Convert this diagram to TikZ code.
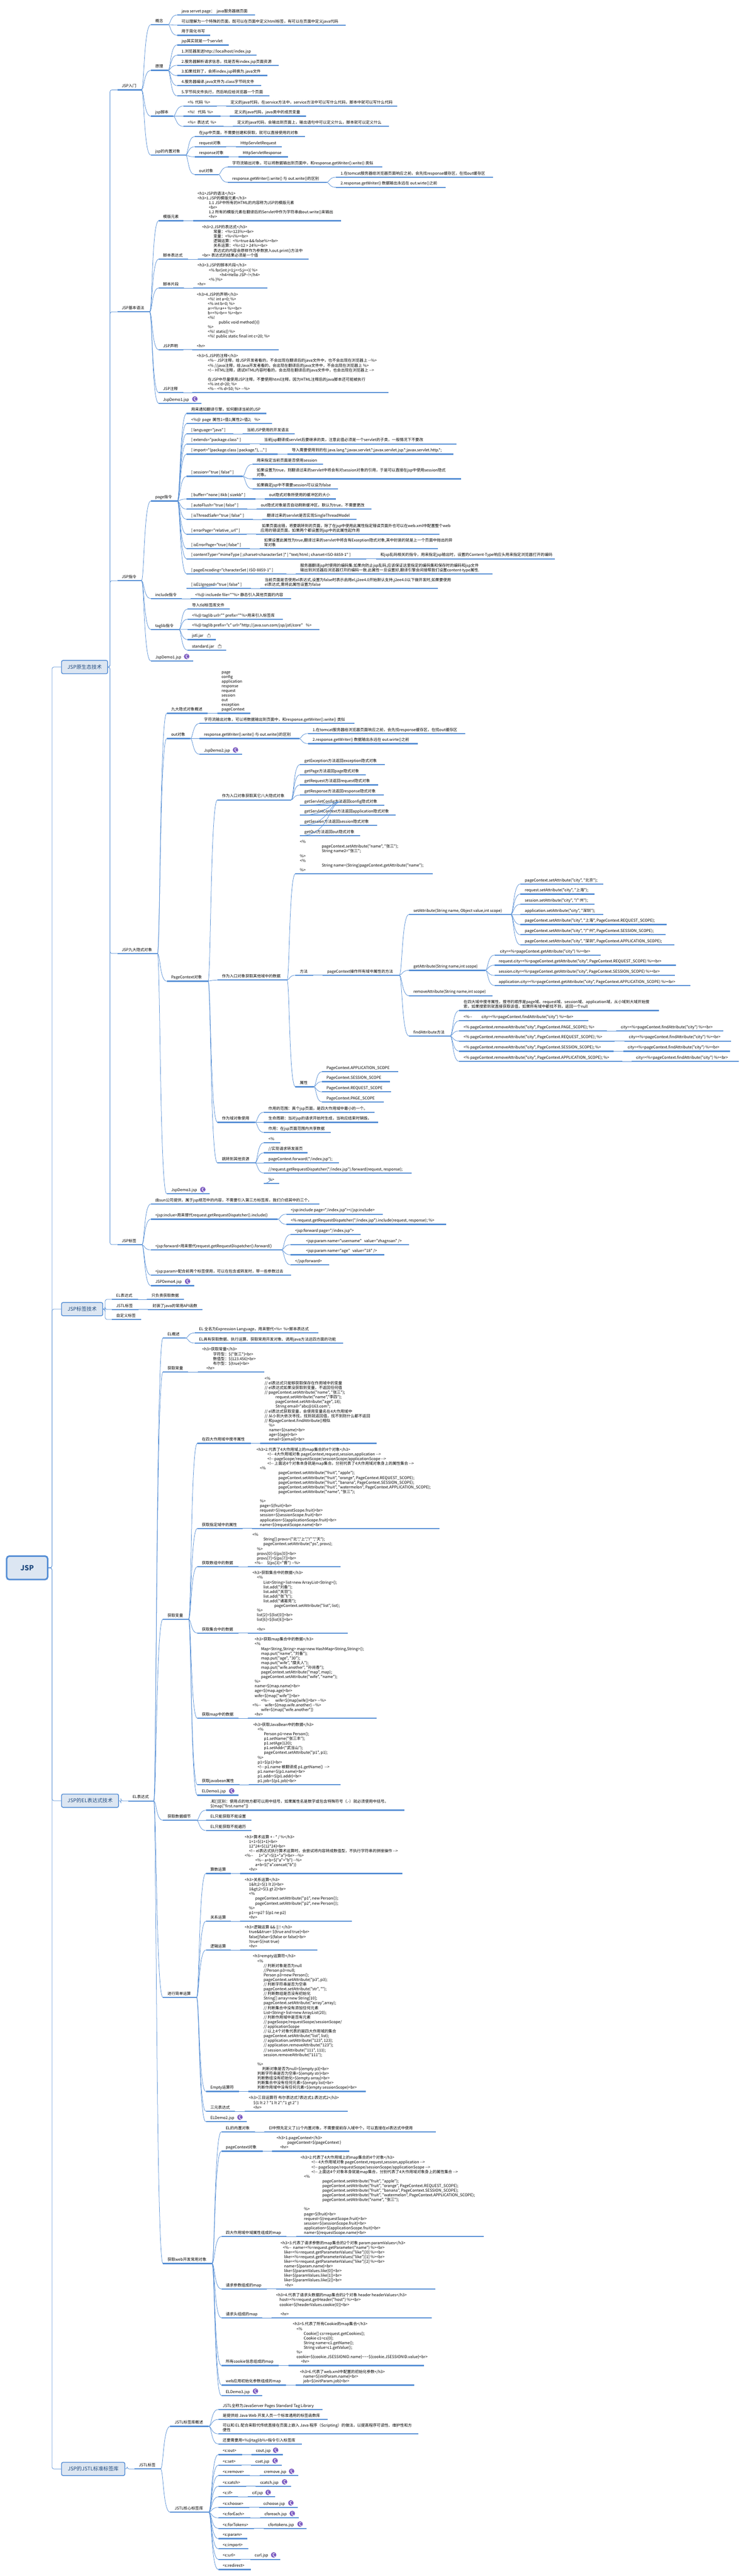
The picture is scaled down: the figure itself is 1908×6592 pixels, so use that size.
\documentclass[tikz,border=0pt]{standalone}
\usepackage{fontspec}
\usetikzlibrary{calc}
\newfontfamily\mainf{Noto Sans CJK SC}
\definecolor{mapblue}{HTML}{558ED5}
\definecolor{boxfill}{HTML}{DCE6F2}
\definecolor{boxtext}{HTML}{1F497D}
\definecolor{icnpurple}{HTML}{7A58BF}
\tikzset{
  topic/.style={anchor=south west,align=left,inner xsep=11.5pt,inner ysep=2.6pt,outer sep=0pt,font=\mainf\fontsize{10}{12}\selectfont},
  barline/.style={draw=mapblue,line width=3pt},
  conn/.style={draw=mapblue,line width=1pt},
  elbow/.style={draw=mapblue,line width=1pt,rounded corners=5pt},
  lvlbox/.style={draw=mapblue,fill=boxfill,line width=2pt,rounded corners=4pt,text=boxtext,font=\mainf\fontsize{13}{15}\selectfont,inner sep=0pt},
  rootbox/.style={draw=mapblue,fill=boxfill,line width=4pt,rounded corners=7pt,text=boxtext,font=\mainf\bfseries\fontsize{18}{20}\selectfont,inner sep=0pt}
}
\newcommand\idt[1]{\hspace*{#1pt}}
\newcommand\blk{\mbox{}}
\newcommand\tpbase[5]{% name x0 x1 y text
  \node[topic] (#1) at (#2,#4) {#5\strut};
  \coordinate (#1w) at (#2,#4);
  \coordinate (#1e) at (#3,#4);
  \draw[barline] (#1w) -- (#1e);
}
% name parent x0 x1 y text
\newcommand\tp[6]{%
  \tpbase{#1}{#3}{#4}{#5}{#6}%
  \draw[conn] let \p1=(#2e),\p2=(#1w) in (\p1) .. controls ({\x1+0.3*(\x2-\x1)},\y1) and ({\x1+0.25*(\x2-\x1)},\y2) .. (\p2);
}
% name box x0 x1 y text
\newcommand\tb[6]{%
  \tpbase{#1}{#3}{#4}{#5}{#6}%
  \draw[elbow] (#2.east) -- ++(5,0) |- (#1w);
}
\newcommand\icn[2]{%
  \fill[icnpurple] (#1,#2) circle (7);
  \draw[white,line width=1.1pt,line cap=round] (#1,#2) ++(2.6,-3.6) .. controls ++(-3,-1) and ++(-1,-4) .. ++(-4.4,3.6) -- ++(2.4,0) ++(-2.4,0) .. controls ++(-1.2,3.5) and ++(4,3.5) .. ++(4.6,3.4);
}
\newcommand\jar[2]{%
  \fill[gray!65] (#1,#2) ++(-4.5,-2) rectangle ++(9,7.5);
  \fill[white] (#1,#2) ++(-3,0) rectangle ++(6,4);
  \fill[gray!80] (#1,#2) ++(0,-3) circle (2.2);
}
\begin{document}
\begin{tikzpicture}[x=1pt,y=-1pt]
\useasboundingbox (0,0) rectangle (1908,6592);
\fill[white] (0,0) rectangle (1908,6592);
\node[rootbox,minimum width=105pt,minimum height=60pt] (root) at (69.5,4012) {JSP};
\node[lvlbox,minimum width=118pt,minimum height=34pt] (A) at (216.5,1707) {JSP原生态技术};
\node[lvlbox,minimum width=105.5pt,minimum height=34pt] (B) at (210.2,3350) {JSP标签技术};
\node[lvlbox,minimum width=146pt,minimum height=34pt] (C) at (230.5,4608) {JSP的EL表达式技术};
\node[lvlbox,minimum width=162pt,minimum height=34pt] (D) at (238.5,6318) {JSP的JSTL标准标签库};
\foreach \b in {A,B,C,D} \draw[draw=mapblue,line width=1pt,rounded corners=5pt] (root.east) -- ++(9,0) |- (\b.west);

% ===== JSP入门
\tb{rm}{A}{300}{362}{230}{JSP入门}
\tp{gn}{rm}{386}{430}{63}{概念}
\tp{gn1}{gn}{453}{652}{38.3}{java servet page：\idt{5}java服务器端页面}
\tp{gn2}{gn}{453}{885}{64.3}{可以理解为一个特殊的页面，既可以在页面中定义html标签，有可以在页面中定义java代码}
\tp{gn3}{gn}{453}{538}{90.3}{用于简化书写}
\tp{yl}{rm}{386}{430}{180}{原理}
\tp{yl0}{yl}{453}{585}{115.2}{jsp其实就是一个servlet}
\tp{yl1}{yl}{453}{656}{141.2}{1.浏览器发送http://localhost/index.jsp}
\tp{yl2}{yl}{453}{713}{167.2}{2.服务器解析请求信息，找是否有index.jsp页面资源}
\tp{yl3}{yl}{453}{684}{193.3}{3.如果找到了，会将index.jsp转换为.java文件}
\tp{yl4}{yl}{453}{668}{219.3}{4.服务器编译.java文件为.class字节码文件}
\tp{yl5}{yl}{453}{690}{245.3}{5.字节码文件执行，然后响应给浏览器一个页面}
\tp{jb}{rm}{386}{443}{297.4}{jsp脚本}
\tp{jb1}{jb}{469}{555}{271.3}{<\%\idt{4}代码\idt{4}\%>}
\tp{jb1a}{jb1}{578.5}{1017}{271.3}{定义的java代码，在service方法中，service方法中可以写什么代码，脚本中就可以写什么代码}
\tp{jb2}{jb}{469}{564.4}{297.4}{<\%!\idt{8}代码\idt{4}\%>}
\tp{jb2a}{jb2}{588.6}{782.5}{297.4}{定义的java代码，java类中的成员变量}
\tp{jb3}{jb}{469}{572}{323.4}{<\%=\idt{4}表达式\idt{4}\%>}
\tp{jb3a}{jb3}{595.7}{995.5}{323.4}{定义的java代码，会输出到页面上，输出语句中可以定义什么，脚本就可以定义什么}
\tp{nz}{rm}{386}{475}{397}{jsp的内置对象}
\tp{nz1}{nz}{498}{781}{349.4}{在jsp中页面，不需要创建和获取，就可以直接使用的对象}
\tp{nz2}{nz}{498}{579}{375.4}{request对象}
\tp{nz2a}{nz2}{604}{721}{375.4}{HttpServletRequest}
\tp{nz3}{nz}{498}{586}{401.4}{response对象}
\tp{nz3a}{nz3}{610}{736.6}{401.4}{HttpServletResponse}
\tp{nz4}{nz}{498}{558.7}{446.6}{out对象}
\tp{nz4a}{nz4}{583}{978}{427.5}{字符流输出对象，可以将数据输出到页面中，和response.getWriter().write() 类似}
\tp{nz4b}{nz4}{583}{836}{466.5}{response.getWriter().write() 与 out.write()的区别}
\tp{nz4c}{nz4b}{860}{1262}{453.5}{1.在tomcat服务器给浏览器页面响应之前，会先找response缓存区，在找out缓存区}
\tp{nz4d}{nz4b}{860}{1140}{479.5}{2.response.getWriter() 数据输出永远在 out.wirte()之前}

% ===== JSP基本语法
\tb{yf}{A}{300}{383}{798}{JSP基本语法}
\tp{mb}{yf}{406}{470}{565}{模版元素}
\tp{mba}{mb}{494}{873}{565}{<h1>JSP的语法</h1>\\
<h3>1.JSP的模版元素</h3>\\
\idt{29}1.1 JSP中所有的HTML的内容称为JSP的模版元素\\
\idt{29}<br>\\
\idt{29}1.2 所有的模版元素在翻译后的Servlet中作为字符串由out.write()来输出\\
\idt{29}<hr>}
\tp{bd}{yf}{406}{481.5}{663}{脚本表达式}
\tp{bda}{bd}{505.7}{790}{663}{<h3>2.JSP的表达式</h3>\\
\idt{29}常量：<\%=123\%><br>\\
\idt{29}变量：<\%=i\%><br>\\
\idt{29}逻辑运算：<\%=true \&\& false\%><br>\\
\idt{29}关系运算：<\%=12 > 24\%><br>\\
\idt{29}表达式的内容会原样作为参数放入out.print()方法中\\
<br> 表达式的结果必须是一个值}
\tp{pd}{yf}{406}{470.7}{737}{脚本片段}
\tp{pda}{pd}{494}{684}{737}{<h3>3.JSP的脚本片段</h3>\\
\idt{29}<\% for(int j=1;j<=5;j++)\{ \%>\\
\idt{57}<h4>Hello JSP\textasciitilde!</h4>\\
\idt{29}<\% \}\%>\\
<hr>}
\tp{sm}{yf}{406}{469}{895}{JSP声明}
\tp{sma}{sm}{492.4}{713}{895}{<h3>4.JSP的声明</h3>\\
\idt{28}<\%! int a=0; \%>\\
\idt{28}<\% int b=0; \%>\\
\idt{28}a=<\%=a++ \%><br>\\
\idt{28}b=<\%=b++ \%><br>\\
\idt{28}<\%!\\
\idt{56}public void method()\{\}\\
\idt{28}\%>\\
\idt{28}<\%! static\{\} \%>\\
\idt{28}<\%! public static final int c=20; \%>\\
\blk\\
<hr>}
\tp{zs}{yf}{406}{469}{1005}{JSP注释}
\tp{zsa}{zs}{492.4}{993.6}{1005}{<h3>5.JSP的注释</h3>\\
\idt{28}<\%-- JSP注释，给JSP开发者看的，不会出现在翻译后的java文件中，也不会出现在浏览器上 --\%>\\
\idt{28}<\% //java注释，给Java开发者看的，会出现在翻译后的java文件中，不会出现在浏览器上 \%>\\
\idt{28}<!-- HTML注释，调试HTML内容时看的，会出现在翻译后的java文件中，也会出现在浏览器上 -->\\
\blk\\
\idt{28}在JSP中尽量使用JSP注释，不要使用html注释，因为HTML注释后的java脚本还可能被执行\\
\idt{28}<\% int d=20; \%>\\
\idt{28}<\%-- <\% d=50; \%> --\%>}
\tp{dm1}{yf}{406}{516}{1032}{JspDemo1.jsp}
\icn{498.7}{1021}

% ===== JSP指令
\tb{zl}{A}{300}{362}{1486}{JSP指令}
\tp{pg}{zl}{386}{454}{1282}{page指令}
\tp{pg1}{pg}{477.7}{682}{1058}{用来通知翻译引擎，如何翻译当前的JSP}
\tp{pg2}{pg}{477.7}{696.4}{1084}{<\%@\idt{4}page\idt{4}属性1=值1;属性2=值2;\idt{8}\%>}
\tp{pg3}{pg}{477.7}{597}{1110}{[ language="java" ]}
\tp{pg3a}{pg3}{620.5}{754.5}{1110}{当前JSP使用的开发语言}
\tp{pg4}{pg}{477.7}{640}{1136}{[ extends="package.class" ]}
\tp{pg4a}{pg4}{664.5}{1168}{1136}{当前jsp翻译成servlet后要继承的类，注意此值必须是一个servlet的子类，一般情况下不要改}
\tp{pg5}{pg}{477.7}{711}{1162}{[ import="\{package.class | package.*\}, ..." ]}
\tp{pg5a}{pg5}{735.4}{1160}{1162}{导入需要使用到的包 java.lang.*;javax.servlet.*;javax.servlet.jsp.*;javax.servlet.http.*;}
\tp{pg6}{pg}{477.7}{621}{1219}{[ session="true | false" ]}
\tp{pg6a}{pg6}{645.4}{827}{1188}{用来指定当前页面是否使用session}
\tp{pg6b}{pg6}{645.4}{1180}{1225.6}{如果设置为true，则翻译过来的servlet中将会有对session对象的引用，于是可以直接在jsp中使用session隐式\\对象。}
\tp{pg6c}{pg6}{645.4}{865}{1251}{如果确定jsp中不需要session可以设为false}
\tp{pg7}{pg}{477.7}{654}{1277}{[ buffer="none | 8kb | sizekb" ]}
\tp{pg7a}{pg7}{677.3}{859}{1277}{out隐式对象所使用的缓冲区的大小}
\tp{pg8}{pg}{477.7}{632.6}{1303}{[ autoFlush="true | false" ]}
\tp{pg8a}{pg8}{656}{950}{1303}{out隐式对象是否自动刷新缓冲区，默认为true，不需要更改}
\tp{pg9}{pg}{477.7}{647}{1329}{[ isThreadSafe="true | false" ]}
\tp{pg9a}{pg9}{671.6}{912.6}{1329}{翻译过来的servlet是否实现SingleThreadModel}
\tp{pga}{pg}{477.7}{631}{1367}{[ errorPage="relative\_url" ]}
\tp{pgaa}{pga}{655.6}{1125}{1367}{\idt{3}如果页面出错，将要跳转到的页面，除了在jsp中使用此属性指定错误页面外也可以在web.xml中配置整个web\\应用的错误页面，如果两个都设置则jsp中的此属性起作用}
\tp{pgb}{pg}{477.7}{640}{1404}{[ isErrorPage="true | false" ]}
\tp{pgba}{pgb}{664.5}{1120}{1404}{如果设置此属性为true,翻译过来的servlet中将含有Exception隐式对象,其中封装的就是上一个页面中抛出的异\\常对象}
\tp{pgc}{pg}{477.7}{938}{1430}{[ contentType="mimeType [ ;charset=characterSet ]" | "text/html ; charset=ISO-8859-1" ]}
\tp{pgca}{pgc}{962}{1420}{1430}{和jsp乱码相关的指令，用来指定jsp输出时，设置的Content-Type响应头用来指定浏览器打开的编码}
\tp{pgd}{pg}{477.7}{733}{1468.6}{[ pageEncoding="characterSet | ISO-8859-1" ]}
\tp{pgda}{pgd}{757}{1260}{1468.6}{服务器翻译jsp时使用的编码集.如果向防止jsp乱码,应该保证这里指定的编码集和保存时的编码和jsp文件\\输出到浏览器后浏览器打开的编码一致.此属性一旦设置好,翻译引擎会间接帮我们设置content-type属性.}
\tp{pge}{pg}{477.7}{641.6}{1506}{[ isELIgnored="true | false" ]}
\tp{pgea}{pge}{666}{1120}{1506}{当前页面是否使用el表达式,设置为false时表示启用el,j2ee4.0开始默认支持,j2ee4.0以下做开发时,如果要使用\\el表达式,需将此属性设置为false}
\tp{ic}{zl}{386}{465}{1532}{include指令}
\tp{ica}{ic}{488}{745}{1532}{<\%@ incluede file=""\%> 静态引入其他页面的内容}
\tp{tl}{zl}{386}{458}{1611}{taglib指令}
\tp{tl1}{tl}{480}{588}{1558.6}{导入tld标签库文件}
\tp{tl2}{tl}{480}{724}{1584.6}{<\%@ taglib url="" prefix=""\%>用来引入标签库}
\tp{tl3}{tl}{480}{818}{1610.6}{<\%@ taglib prefix="c" url="http://java.sun.com/jsp/jstl/core"\idt{8}\%>}
\tp{tl4}{tl}{480}{552}{1636.7}{jstl.jar}
\jar{534.4}{1626}
\tp{tl5}{tl}{480}{579}{1664}{standard.jar}
\jar{562}{1653}
\tp{dm1b}{zl}{386}{495}{1691.4}{JspDemo1.jsp}
\icn{477.7}{1680}

% ===== JSP九大隐式对象
\tb{ys}{A}{300}{403}{2440}{JSP九大隐式对象}
\tp{ys1}{ys}{426.6}{531}{1825.4}{九大隐式对象概述}
\tp{ys1a}{ys1}{555.7}{640.5}{1825.4}{page\\config\\application\\response\\request\\session\\out\\exception\\pageContext}
\tp{ou}{ys}{426.6}{487}{1890}{out对象}
\tp{oua}{ou}{510.8}{906.4}{1851}{字符流输出对象，可以将数据输出到页面中，和response.getWriter().write() 类似}
\tp{oub}{ou}{510.8}{765.4}{1890}{response.getWriter().write() 与 out.write()的区别}
\tp{ouc}{oub}{788.6}{1191}{1877}{1.在tomcat服务器给浏览器页面响应之前，会先找response缓存区，在找out缓存区}
\tp{oud}{oub}{788.6}{1069}{1903}{2.response.getWriter() 数据输出永远在 out.wirte()之前}
\tp{dm2}{ou}{510.8}{620}{1930.4}{JspDemo2.jsp}
\icn{602.7}{1919}
\tp{pc}{ys}{426.6}{532.5}{2510.7}{PageContext对象}
\tp{pc1}{pc}{556.4}{745}{2047}{作为入口对象获取其它八大隐式对象}
\tp{pc1a}{pc1}{767.5}{985}{1956.7}{getException方法返回exception隐式对象}
\tp{pc1b}{pc1}{767.5}{936.6}{1982.6}{getPage方法返回page隐式对象}
\tp{pc1c}{pc1}{767.5}{967.5}{2008.5}{getRequest方法返回request隐式对象}
\tp{pc1d}{pc1}{767.5}{982}{2034.4}{getResponse方法返回response隐式对象}
\tp{pc1e}{pc1}{767.5}{984}{2060.3}{getServletConfig方法返回config隐式对象}
\tp{pc1f}{pc1}{767.5}{1013}{2086}{getServletContext方法返回application隐式对象}
\tp{pc1g}{pc1}{767.5}{965}{2112}{getSession方法返回session隐式对象}
\tp{pc1h}{pc1}{767.5}{921}{2138.4}{getOut方法返回out隐式对象}
\tp{pc2}{pc}{556.4}{734.6}{2508}{作为入口对象获取其他域中的数据}
\tp{pc2a}{pc2}{756}{1107}{2236}{<\%\\
\idt{56}pageContext.setAttribute("name", "张三");\\
\idt{56}String name2="张三";\\
\%>\\
<\%\\
\idt{56}String name=(String)pageContext.getAttribute("name");\\
\%>}
\tp{ff}{pc2}{756}{801}{2495.5}{方法}
\tp{ffa}{ff}{825.7}{1022}{2495.5}{pageContext操作所有域中属性的方法}
\tp{st}{ffa}{1046.7}{1307}{2340}{setAttribute(String name, Object value,int scope)}
\tp{st1}{st}{1331.8}{1544}{2262}{pageContext.setAttribute("city", "北京");}
\tp{st2}{st}{1331.8}{1522}{2288}{request.setAttribute("city", "上海");}
\tp{st3}{st}{1331.8}{1522}{2314}{session.setAttribute("city", "广州");}
\tp{st4}{st}{1331.8}{1544}{2340}{application.setAttribute("city", "深圳");}
\tp{st5}{st}{1331.8}{1706}{2366}{pageContext.setAttribute("city", "上海", PageContext.REQUEST\_SCOPE);}
\tp{st6}{st}{1331.8}{1704}{2392}{pageContext.setAttribute("city", "广州", PageContext.SESSION\_SCOPE);}
\tp{st7}{st}{1331.8}{1726}{2418}{pageContext.setAttribute("city", "深圳", PageContext.APPLICATION\_SCOPE);}
\tp{gt}{ffa}{1046.7}{1242}{2483}{getAttribute(String name,int scope)}
\tp{gt1}{gt}{1265}{1537}{2444}{\idt{3}city=<\%=pageContext.getAttribute("city") \%><br>}
\tp{gt2}{gt}{1265}{1730}{2470}{request.city=<\%=pageContext.getAttribute("city", PageContext.REQUEST\_SCOPE) \%><br>}
\tp{gt3}{gt}{1265}{1727}{2496}{session.city=<\%=pageContext.getAttribute("city", PageContext.SESSION\_SCOPE) \%><br>}
\tp{gt4}{gt}{1265}{1767}{2522}{application.city=<\%=pageContext.getAttribute("city", PageContext.APPLICATION\_SCOPE) \%><br>}
\tp{rmv}{ffa}{1046.7}{1260.6}{2548}{removeAttribute(String name,int scope)}
\tp{fd}{ffa}{1046.7}{1152}{2651}{findAttribute方法}
\tp{fd1}{fd}{1175}{1686}{2586}{在四大域中搜寻属性，搜寻的顺序是page域、request域、session域、application域，从小域到大域开始搜\\索，如果搜索到就直接获取该值，如果所有域中都找不到，返回一个null}
\tp{fd2}{fd}{1175}{1505.5}{2612}{<\%--\idt{24}city=<\%=pageContext.findAttribute("city") \%><br>}
\tp{fd3}{fd}{1175}{1553.6}{2638}{<\% pageContext.removeAttribute("city", PageContext.PAGE\_SCOPE); \%>}
\tp{fd3a}{fd3}{1577.3}{1851}{2638}{city=<\%=pageContext.findAttribute("city") \%><br>}
\tp{fd4}{fd}{1175}{1573}{2664}{<\% pageContext.removeAttribute("city", PageContext.REQUEST\_SCOPE); \%>}
\tp{fd4a}{fd4}{1597.6}{1871}{2664}{city=<\%=pageContext.findAttribute("city") \%><br>}
\tp{fd5}{fd}{1175}{1570}{2690}{<\% pageContext.removeAttribute("city", PageContext.SESSION\_SCOPE); \%>}
\tp{fd5a}{fd5}{1594.7}{1868.6}{2690}{city=<\%=pageContext.findAttribute("city") \%><br>}
\tp{fd6}{fd}{1175}{1592}{2716}{<\% pageContext.removeAttribute("city", PageContext.APPLICATION\_SCOPE); \%>}
\tp{fd6a}{fd6}{1616.7}{1890.6}{2716}{city=<\%=pageContext.findAttribute("city") \%><br>}
\tp{sx}{pc2}{756}{803}{2781}{属性}
\tp{sx1}{sx}{824.3}{1019}{2742.4}{PageContext.APPLICATION\_SCOPE}
\tp{sx2}{sx}{824.3}{997.6}{2768}{PageContext.SESSION\_SCOPE}
\tp{sx3}{sx}{824.3}{1000.4}{2794}{PageContext.REQUEST\_SCOPE}
\tp{sx4}{sx}{824.3}{982}{2820}{PageContext.PAGE\_SCOPE}
\tp{pc3}{pc}{556.4}{652.5}{2872}{作为域对象使用}
\tp{pc3a}{pc3}{675.6}{958}{2846}{作用的范围：真个jsp页面，是四大作用域中最小的一个。}
\tp{pc3b}{pc3}{675.6}{968}{2872}{生命周期：当对jsp的请求开始时生成，当响应结束时销毁。}
\tp{pc3c}{pc3}{675.6}{846}{2898}{作用：在jsp页面范围内共享数据}
\tp{pc4}{pc}{556.4}{652.5}{2976}{跳转到其他资源}
\tp{pc4a}{pc4}{675.6}{717}{2924}{<\%}
\tp{pc4b}{pc4}{675.6}{787}{2950}{//实现请求转发首页}
\tp{pc4c}{pc4}{675.6}{867}{2976}{pageContext.forward("/index.jsp");}
\tp{pc4d}{pc4}{675.6}{1053}{3002}{//request.getRequestDispatcher("/index.jsp").forward(request, response);}
\tp{pc4e}{pc4}{675.6}{714}{3028}{\%>}
\tp{dm3}{ys}{426.6}{536}{3055}{JspDemo3.jsp}
\icn{519}{3044}

% ===== JSP标签
\tb{bq}{A}{300}{363}{3185}{JSP标签}
\tp{bq1}{bq}{386}{818}{3081}{由sun公司提供，属于jsp规范中的内容，不需要引入第三方标签库，我们介绍其中的三个。}
\tp{bq2}{bq}{386}{711}{3120}{<jsp:inclue>用来替代request.getRequestDispatcher().include()}
\tp{bq2a}{bq2}{733}{979}{3107}{<jsp:include page="/index.jsp"></jsp:include>}
\tp{bq2b}{bq2}{733}{1141.4}{3133}{<\% request.getRequestDispatcher("/index.jsp").include(request, response); \%>}
\tp{bq3}{bq}{386}{720.5}{3198.6}{<jsp:forward>用来替代request.getRequestDispatcher().forward()}
\tp{bq3a}{bq3}{743.7}{923}{3159}{<jsp:forward page="/index.jsp">}
\tp{bq3b}{bq3}{743.7}{1047}{3185}{\idt{28}<jsp:param name="username"\idt{6}value="zhagnsan" />}
\tp{bq3c}{bq3}{743.7}{984}{3211}{\idt{28}<jsp:param name="age"\idt{6}value="18" />}
\tp{bq3d}{bq3}{743.7}{842}{3237}{</jsp:forward>}
\tp{bq4}{bq}{386}{745.5}{3263}{<jsp:param>配合前两个标签使用，可以在包含或转发时，带一些参数过去}
\tp{dm4}{bq}{386}{497}{3290}{JSPDemo4.jsp}
\icn{480}{3279}

% ===== JSP标签技术
\tb{b1}{B}{286}{352.7}{3325}{EL表达式}
\tp{b1a}{b1}{376.3}{471}{3325}{只负责获取数据}
\tb{b2}{B}{286}{354.6}{3351}{JSTL标签}
\tp{b2a}{b2}{379}{518}{3351}{封装了java的常用API函数}
\tb{b3}{B}{286}{361.6}{3376.4}{自定义标签}

% ===== EL
\tb{el}{C}{328}{393.5}{4608.6}{EL表达式}
\tp{e1}{el}{417}{475}{3424}{EL概述}
\tp{e1a}{e1}{498}{814.4}{3411}{EL 全名为Expression Language，用来替代<\%=\idt{4}\%>脚本表达式}
\tp{e1b}{e1}{498}{878}{3437}{EL具有获取数据、执行运算、获取常用开发对象、调用java方法这四方面的功能}
\tp{e2}{el}{417}{481.5}{3511}{获取常量}
\tp{e2a}{e2}{505.7}{676.7}{3511}{<h3>获取常量</h3>\\
\idt{28}字符型：\$\{"张三"\}<br>\\
\idt{28}数值型：\$\{123.456\}<br>\\
\idt{28}布尔型：\$\{true\}<br>\\
\idt{11}<hr>}
\tp{e3}{el}{417}{482.8}{4143.3}{获取变量}
\tp{e31}{e3}{505}{641.6}{3693.3}{在四大作用域中搜寻属性}
\tp{e31a}{e31}{665.8}{963.6}{3693.3}{<\%\\
// el表达式只能够获取保存在作用域中的变量\\
// el表达式如果没获取到变量，不返回任何值\\
// pageContext.setAttribute("name", "张三");\\
\idt{28}request.setAttribute("name","李四");\\
\idt{28}pageContext.setAttribute("age", 18);\\
\idt{28}String email="abc@163.com";\\
// el表达式获取变量，会使用变量名在4大作用域中\\
// 从小到大依次寻找，找到就返回值，找不到则什么都不返回\\
// 和pageContext.findAttribute()相似\\
\idt{11}\%>\\
\idt{11}name=\$\{name\}<br>\\
\idt{11}age=\$\{age\}<br>\\
\idt{11}email=\$\{email\}<br>}
\tp{e32}{e3}{505}{620.5}{3911.4}{获取指定域中的属性}
\tp{e32a}{e32}{644.8}{1125}{3911.4}{<h3>2.代表了4大作用域上的map集合的4个对象</h3>\\
\idt{28}<!-- 4大作用域对象 pageContext,request,session,application -->\\
\idt{28}<!-- pageScope/requestScope/sessionScope/applicationScope -->\\
\idt{28}<!-- 上面这4个对象本身就是map集合，分别代表了4大作用域对象身上的属性集合 -->\\
\idt{9}<\%\\
\idt{56}pageContext.setAttribute("fruit", "apple");\\
\idt{56}pageContext.setAttribute("fruit", "orange", PageContext.REQUEST\_SCOPE);\\
\idt{56}pageContext.setAttribute("fruit", "banana", PageContext.SESSION\_SCOPE);\\
\idt{56}pageContext.setAttribute("fruit", "watermelon", PageContext.APPLICATION\_SCOPE);\\
\idt{56}pageContext.setAttribute("name", "张三");\\
\blk\\
\idt{9}\%>\\
\idt{9}page=\$\{fruit\}<br>\\
\idt{9}request=\$\{requestScope.fruit\}<br>\\
\idt{9}session=\$\{sessionScope.fruit\}<br>\\
\idt{9}application=\$\{applicationScope.fruit\}<br>\\
\idt{9}name=\$\{requestScope.name\}<br>}
\tp{e33}{e3}{505}{610}{4009.3}{获取数组中的数据}
\tp{e33a}{e33}{634.6}{871}{4009.3}{<\%\\
\idt{28}String[] provs=\{"北","上","广","天"\};\\
\idt{28}pageContext.setAttribute("ps", provs);\\
\idt{11.5}\%>\\
\idt{11.5}provs[0]=\$\{ps[0]\}<br>\\
\idt{11.5}provs[7]=\$\{ps[7]\}<br>\\
\idt{5.7}<\%--\idt{10}\$\{ps[3]="晋"\} --\%>}
\tp{e34}{e3}{505}{610}{4179}{获取集合中的数据}
\tp{e34a}{e34}{634.6}{890}{4179}{<h3>获取集合中的数据</h3>\\
\idt{11.5}<\%\\
\idt{28}List<String> list=new ArrayList<String>();\\
\idt{28}list.add("刘备");\\
\idt{28}list.add("关羽");\\
\idt{28}list.add("张飞");\\
\idt{28}list.add("诸葛亮");\\
\idt{56}pageContext.setAttribute("list", list);\\
\idt{11.5}\%>\\
\idt{11.5}list[2]=\$\{list[0]\}<br>\\
\idt{11.5}list[6]=\$\{list[6]\}<br>\\
\blk\\
\idt{11.5}<hr>}
\tp{e35}{e3}{505}{610}{4397}{获取map中的数据}
\tp{e35a}{e35}{634.6}{963.6}{4397}{\idt{5.7}<h3>获取map集合中的数据</h3>\\
\idt{5.7}<\%\\
\idt{22}Map<String,String> map=new HashMap<String,String>();\\
\idt{22}map.put("name", "刘备");\\
\idt{22}map.put("age", "30");\\
\idt{22}map.put("wife", "糜夫人");\\
\idt{22}map.put("wife.another", "孙尚香");\\
\idt{22}pageContext.setAttribute("map", map);\\
\idt{22}pageContext.setAttribute("wife", "name");\\
\idt{5.7}\%>\\
\idt{5.7}name=\$\{map.name\}<br>\\
\idt{5.7}age=\$\{map.age\}<br>\\
\idt{5.7}wife=\$\{map["wife"]\}<br>\\
\idt{22}<\%--\idt{15}wife=\$\{map[wife]\}<br> --\%>\\
<\%--\idt{10}wife=\$\{map.wife.another\} --\%>\\
\idt{22}wife=\$\{map["wife.another"]\}\\
\idt{5.7}<hr>}
\tp{e36}{e3}{505}{613}{4567.2}{获取javabean属性}
\tp{e36a}{e36}{636.5}{871}{4567.2}{<h3>获取JavaBean中的数据</h3>\\
\idt{11.5}<\%\\
\idt{27.5}Person p1=new Person();\\
\idt{27.5}p1.setName("张三丰");\\
\idt{27.5}p1.setAge(120);\\
\idt{27.5}p1.setAddr("武当山");\\
\idt{27.5}pageContext.setAttribute("p1", p1);\\
\idt{11.5}\%>\\
\idt{11.5}p1=\$\{p1\}<br>\\
\idt{11.5}<!-- p1.name 被翻译成 p1.getName()\idt{4}-->\\
\idt{11.5}p1.name=\$\{p1.name\}<br>\\
\idt{11.5}p1.addr=\$\{p1.addr\}<br>\\
\idt{11.5}p1.job=\$\{p1.job\}<br>}
\tp{eld1}{e3}{505}{610}{4594}{ELDemo1.jsp}
\icn{593}{4583}
\tp{e4}{el}{417}{503}{4658.3}{获取数据细节}
\tp{e4a}{e4}{526.8}{1035}{4632.3}{.和[]区别：使用点的地方都可以用中括号，如果属性名是数字或包含特殊符号（.-）就必须使用中括号。\\\$\{map["first.name"]\}}
\tp{e4b}{e4}{526.8}{643.5}{4658.3}{EL只能获取不能设置}
\tp{e4c}{e4}{526.8}{643.5}{4684.3}{EL只能获取不能遍历}
\tp{e5}{el}{417}{503}{5111.4}{进行简单运算}
\tp{e51}{e5}{526.8}{590.6}{4794.2}{算数运算}
\tp{e51a}{e51}{614.8}{1030}{4794.2}{<h3>算术运算 + - * / \%</h3>\\
\idt{11}1+1=\$\{1+1\}<br>\\
\idt{11}12*24=\$\{12*24\}<br>\\
\idt{11}<!-- el表达式执行算术运算时，会尝试将内容转成数值型，不执行字符串的拼接操作 -->\\
<\%--\idt{14}1+"a"=\$\{1+"a"\}<br> --\%>\\
\idt{27}<\%-- a+b=\$\{"a"+"b"\} --\%>\\
\idt{27}a+b=\$\{"a".concat("b")\}\\
\idt{11}<hr>}
\tp{e52}{e5}{526.8}{590.6}{4916.3}{关系运算}
\tp{e52a}{e52}{614.8}{901}{4916.3}{<h3>关系运算</h3>\\
\idt{11}1\&lt;2=\$\{1 lt 2\}<br>\\
\idt{11}1\&gt;2=\$\{1 gt 2\}<br>\\
\idt{11}<\%\\
\idt{27}pageContext.setAttribute("p1", new Person());\\
\idt{27}pageContext.setAttribute("p2", new Person());\\
\idt{11}\%>\\
\idt{11}p1==p2? \$\{p1 ne p2\}\\
\idt{11}<hr>}
\tp{e53}{e5}{526.8}{590.6}{4990}{逻辑运算}
\tp{e53a}{e53}{614.8}{812.5}{4990}{<h3>逻辑运算 \&\& || ! </h3>\\
\idt{11}true\&\&true= \$\{true and true\}<br>\\
\idt{11}false||false=\$\{false or false\}<br>\\
\idt{11}!true=\$\{not true\}\\
\idt{11}<hr>}
\tp{e54}{e5}{526.8}{611.6}{5352}{Empty运算符}
\tp{e54a}{e54}{635.8}{936}{5352}{<h3>empty运算符</h3>\\
\idt{11.5}<\%\\
\idt{27.5}// 判断对象是否为null\\
\idt{27.5}//Person p3=null;\\
\idt{27.5}Person p3=new Person();\\
\idt{27.5}pageContext.setAttribute("p3", p3);\\
\idt{27.5}// 判断字符串是否为空串\\
\idt{27.5}pageContext.setAttribute("str", "");\\
\idt{27.5}// 判断数组是否没有初始化\\
\idt{27.5}String[] array=new String[10];\\
\idt{27.5}pageContext.setAttribute("array",array);\\
\idt{27.5}// 判断集合中没有添加任何元素\\
\idt{27.5}List<String> list=new ArrayList(20);\\
\idt{27.5}// 判断作用域中是否有元素\\
\idt{27.5}// pageScope/requestScope/sessionScope/\\
\idt{27.5}// applicationScope\\
\idt{27.5}// 以上4个对象代表的是四大作用域的集合\\
\idt{27.5}pageContext.setAttribute("list", list);\\
\idt{27.5}// application.setAttribute("123", 123);\\
\idt{27.5}// application.removeAttribute("123");\\
\idt{27.5}// session.setAttribute("111", 111);\\
\idt{27.5}session.removeAttribute("111");\\
\blk\\
\idt{11.5}\%>\\
\idt{23.6}判断对象是否为null=\$\{empty p3\}<br>\\
\idt{11.5}判断字符串是否为空串=\$\{empty str\}<br>\\
\idt{11.5}判断数组没有初始化=\$\{empty array\}<br>\\
\idt{11.5}判断集合中没有任何元素=\$\{empty list\}<br>\\
\idt{11.5}判断作用域中没有任何元素=\$\{empty sessionScope\}<br>}
\tp{e55}{e5}{526.8}{600.8}{5402.6}{三元表达式}
\tp{e55a}{e55}{625.6}{890}{5402.6}{<h3>三目运算符 布尔表达式?表达式1:表达式2</h3>\\
\idt{11.5}\$\{1 lt 2 ? "1 lt 2":"1 gt 2" \}\\
\idt{11.5}<hr>}
\tp{eld2}{e5}{526.8}{631}{5429.4}{ELDemo2.jsp}
\icn{614}{5418}
\tp{e6}{el}{417}{542.7}{5792.3}{获取web开发常用对象}
\tp{e61}{e6}{566.3}{652.4}{5455.4}{EL的内置对象}
\tp{e61a}{e61}{676.7}{1115}{5455.4}{El中预先定义了11个内置对象，不需要提前存入域中个，可以直接在el表达式中使用}
\tp{e62}{e6}{566.3}{672}{5505}{pageContext对象}
\tp{e62a}{e62}{696.4}{894}{5505}{<h3>1.pageContext</h3>\\
\idt{27.5}pageContext=\$\{pageContext \}\\
\idt{9}<hr>}
\tp{e63}{e6}{566.3}{733.4}{5723.3}{四大作用域中域属性组成的map}
\tp{e63a}{e63}{757.6}{1238}{5723.3}{<h3>2.代表了4大作用域上的map集合的4个对象</h3>\\
\idt{28}<!-- 4大作用域对象 pageContext,request,session,application -->\\
\idt{28}<!-- pageScope/requestScope/sessionScope/applicationScope -->\\
\idt{28}<!-- 上面这4个对象本身就是map集合，分别代表了4大作用域对象身上的属性集合 -->\\
\idt{9}<\%\\
\idt{56}pageContext.setAttribute("fruit", "apple");\\
\idt{56}pageContext.setAttribute("fruit", "orange", PageContext.REQUEST\_SCOPE);\\
\idt{56}pageContext.setAttribute("fruit", "banana", PageContext.SESSION\_SCOPE);\\
\idt{56}pageContext.setAttribute("fruit", "watermelon", PageContext.APPLICATION\_SCOPE);\\
\idt{56}pageContext.setAttribute("name", "张三");\\
\blk\\
\idt{9}\%>\\
\idt{9}page=\$\{fruit\}<br>\\
\idt{9}request=\$\{requestScope.fruit\}<br>\\
\idt{9}session=\$\{sessionScope.fruit\}<br>\\
\idt{9}application=\$\{applicationScope.fruit\}<br>\\
\idt{9}name=\$\{requestScope.name\}<br>}
\tp{e64}{e6}{566.3}{682.4}{5857.3}{请求参数组成的map}
\tp{e64a}{e64}{706.6}{1114}{5857.3}{<h3>3.代表了请求参数的map集合的2个对象 param paramValues</h3>\\
\idt{6}<\%--\idt{4}name=<\%=request.getParameter("name") \%><br>\\
\idt{9}like=<\%=request.getParameterValues("like")[0] \%><br>\\
\idt{9}like=<\%=request.getParameterValues("like")[1] \%><br>\\
\idt{9}like=<\%=request.getParameterValues("like")[2] \%><br>\\
\idt{9}name=\$\{param.name\}<br>\\
\idt{9}like=\$\{paramValues.like[0]\}<br>\\
\idt{9}like=\$\{paramValues.like[1]\}<br>\\
\idt{9}like=\$\{paramValues.like[2]\}<br>\\
\idt{11.5}<hr>}
\tp{e65}{e6}{566.3}{671.6}{5931.3}{请求头组成的map}
\tp{e65a}{e65}{695}{1105}{5931.3}{<h3>4.代表了请求头数据的map集合的2个对象 header headerValues</h3>\\
\idt{9}host=<\%=request.getHeader("host") \%><br>\\
\idt{9}cookie=\$\{headerValues.cookie[0]\}<br>\\
\blk\\
\idt{11.5}<hr>}
\tp{e66}{e6}{566.3}{713.7}{6053.3}{所有cookie信息组成的map}
\tp{e66a}{e66}{737.9}{1085}{6053.3}{<h3>5.代表了所有Cookie的map集合</h3>\\
\idt{9.5}<\%\\
\idt{28}Cookie[] cs=request.getCookies();\\
\idt{28}Cookie c1=cs[0];\\
\idt{28}String name=c1.getName();\\
\idt{28}String value=c1.getValue();\\
\idt{9.5}\%>\\
\idt{9.5}cookie=\$\{cookie.JSESSIONID.name\}\textasciitilde\textasciitilde\textasciitilde\$\{cookie.JSESSIONID.value\}<br>\\
\idt{21}<hr>}
\tp{e67}{e6}{566.3}{732}{6103.3}{web应用初始化参数组成的map}
\tp{e67a}{e67}{756.4}{1060}{6103.3}{<h3>6.代表了web.xml中配置的初始化参数</h3>\\
\idt{8.5}name=\$\{initParam.name\}<br>\\
\idt{8.5}job=\$\{initParam.job\}<br>}
\tp{eld3}{e6}{566.3}{671.6}{6130.3}{ELDemo3.jsp}
\icn{653.7}{6119}

% ===== JSTL
\tb{jt}{D}{344}{411}{6318}{JSTL标签}
\tp{j1}{jt}{435.6}{534.4}{6209}{JSTL标签库概述}
\tp{j1a}{j1}{558.7}{825.3}{6165.7}{JSTL全称为JavaServer Pages Standard Tag Library}
\tp{j1b}{j1}{558.7}{838.6}{6191.3}{是提供给 Java Web 开发人员一个标准通用的标签函数库}
\tp{j1c}{j1}{558.7}{1070}{6228.3}{可以和 EL 配合来取代传统直接在页面上嵌入 Java 程序（Scripting）的做法，以提高程序可读性、维护性和方\\便性}
\tp{j1d}{j1}{558.7}{772.3}{6254.3}{还要需要用<\%@taglib\%>指令引入标签库}
\tp{j2}{jt}{435.6}{534.4}{6428.7}{JSTL核心标签库}
\tp{c1}{j2}{558.7}{619.3}{6281.3}{<c:out>}
\tp{c1a}{c1}{643.5}{723.2}{6281.3}{cout.jsp}
\icn{705.4}{6270}
\tp{c2}{j2}{558.7}{618}{6308.3}{<c:set>}
\tp{c2a}{c2}{642.2}{721.3}{6308.3}{cset.jsp}
\icn{704}{6297}
\tp{c3}{j2}{558.7}{639.7}{6335.3}{<c:remove>}
\tp{c3a}{c3}{663.9}{763.4}{6335.3}{cremove.jsp}
\icn{746.2}{6324}
\tp{c4}{j2}{558.7}{630}{6362.3}{<c:catch>}
\tp{c4a}{c4}{654.3}{745.5}{6362.3}{ccatch.jsp}
\icn{728.3}{6351}
\tp{c5}{j2}{558.7}{609}{6389.3}{<c:if>}
\tp{c5a}{c5}{634}{703.4}{6389.3}{cif.jsp}
\icn{686.2}{6378}
\tp{c6}{j2}{558.7}{638.4}{6416.3}{<c:choose>}
\tp{c6a}{c6}{662.6}{761.5}{6416.3}{cchoose.jsp}
\icn{744.3}{6405}
\tp{c7}{j2}{558.7}{641}{6443.3}{<c:forEach>}
\tp{c7a}{c7}{665.2}{765.3}{6443.3}{cforeach.jsp}
\icn{748}{6432}
\tp{c8}{j2}{558.7}{650.5}{6470.3}{<c:forTokens>}
\tp{c8a}{c8}{674.7}{785}{6470.3}{cfortokens.jsp}
\icn{767.9}{6459}
\tp{c9}{j2}{558.7}{633.3}{6496.3}{<c:param>}
\tp{c10}{j2}{558.7}{635.2}{6522.3}{<c:import>}
\tp{c11}{j2}{558.7}{616}{6549.3}{<c:url>}
\tp{c11a}{c11}{640.3}{717.5}{6549.3}{curl.jsp}
\icn{700.3}{6538}
\tp{c12}{j2}{558.7}{641.6}{6575.3}{<c:redirect>}
\end{tikzpicture}
\end{document}
